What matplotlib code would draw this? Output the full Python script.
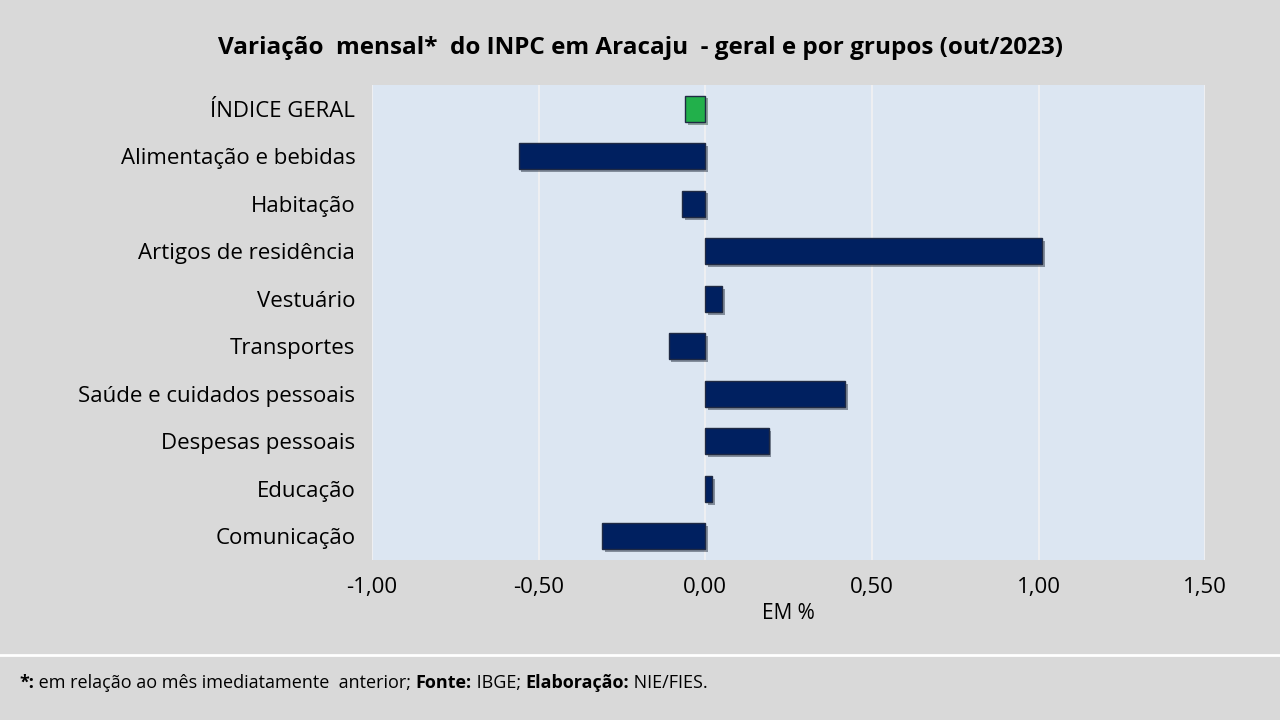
import matplotlib.pyplot as plt
import matplotlib.patheffects as pe

categories = ["ÍNDICE GERAL", "Alimentação e bebidas", "Habitação", "Artigos de residência",
              "Vestuário", "Transportes", "Saúde e cuidados pessoais", "Despesas pessoais",
              "Educação", "Comunicação"]
values = [-0.06, -0.56, -0.07, 1.01, 0.05, -0.11, 0.42, 0.19, 0.02, -0.31]
ticks = [-1.0, -0.5, 0.0, 0.5, 1.0, 1.5]
tick_labels = ["-1,00", "-0,50", "0,00", "0,50", "1,00", "1,50"]

plt.rcParams["font.family"] = ["Open Sans", "DejaVu Sans"]

fig = plt.figure(figsize=(12.8, 7.2), dpi=100, facecolor="#d9d9d9")
ax = fig.add_axes([0.2906, 0.222, 0.651, 0.66])
ax.set_facecolor("#dce6f2")

colors = ["#22b04b"] + ["#002060"] * (len(values) - 1)
y = list(range(len(categories)))
bars = ax.barh(y, values, height=0.55, color=colors, edgecolor="#1f2a44", linewidth=1, zorder=3)
for b in bars:
    b.set_path_effects([pe.SimplePatchShadow(offset=(2, -2), alpha=0.4), pe.Normal()])

ax.set_ylim(len(categories) - 0.5, -0.5)
ax.set_xlim(-1.0, 1.5)
ax.set_yticks(y)
ax.set_yticklabels(categories, fontsize=16)
ax.set_xticks(ticks)
ax.set_xticklabels(tick_labels, fontsize=16)
ax.tick_params(length=0, pad=12)
ax.xaxis.grid(True, color="#f2f2f2", linewidth=1.2, zorder=0)
for s in ax.spines.values():
    s.set_visible(False)
ax.set_xlabel("EM %", fontsize=15, labelpad=4)

fig.text(0.5, 0.925, "Variação  mensal*  do INPC em Aracaju  - geral e por grupos (out/2023)",
         ha="center", fontsize=17.5, fontweight="bold")
fig.add_artist(plt.Line2D([0, 1], [0.09, 0.09], color="white", linewidth=2))

# rodapé com partes em negrito
parts = [("*:", "bold"), (" em relação ao mês imediatamente  anterior; ", "normal"), ("Fonte:", "bold"),
         (" IBGE; ", "normal"), ("Elaboração:", "bold"), (" NIE/FIES.", "normal")]
r = fig.canvas.get_renderer()
x = 0.015
for s, w in parts:
    tt = fig.text(x, 0.045, s, fontsize=13, fontweight=w)
    x += tt.get_window_extent(renderer=r).width / fig.bbox.width

fig.savefig("out.png", dpi=100, facecolor=fig.get_facecolor())
